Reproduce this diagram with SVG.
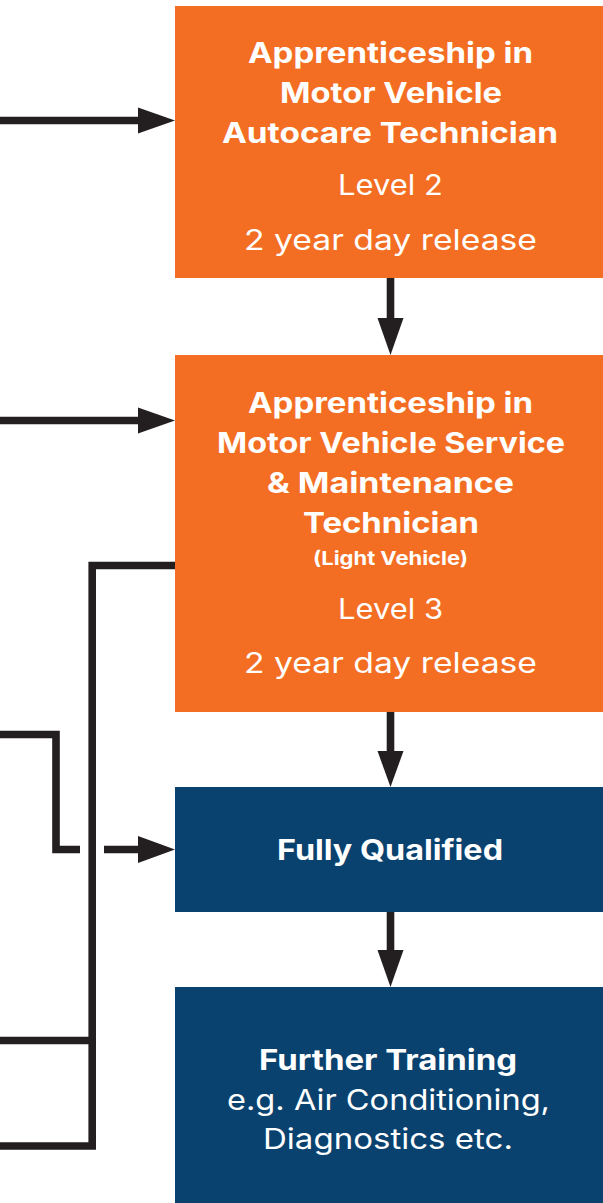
<svg xmlns="http://www.w3.org/2000/svg" width="603" height="1203" viewBox="0 0 603 1203">
<style>
.orange{fill:#F36E22}
.navy{fill:#0A426F}
.t{font-family:Inter,"Noto Sans","Liberation Sans",sans-serif;fill:#FFFFFF;text-anchor:middle;font-size:28px}
.b{font-weight:700}
.r{font-weight:400}
.s{font-size:19px;font-weight:700}
.ln{fill:none;stroke:#231F20;stroke-width:7.6;stroke-linejoin:miter;stroke-linecap:butt}
.hd{fill:#231F20}
</style>
<rect width="603" height="1203" fill="#FFFFFF"/>
<g id="connectors">
<path class="ln" d="M0,120.5 H140"/>
<polygon class="hd" points="138,107.5 175,120.5 138,133.5"/>
<path class="ln" d="M0,420.5 H140"/>
<polygon class="hd" points="138,407.5 175,420.5 138,433.5"/>
<path class="ln" d="M390.5,278 V320"/>
<polygon class="hd" points="377.5,318 403.5,318 390.5,355"/>
<path class="ln" d="M390.5,712 V753"/>
<polygon class="hd" points="377.5,751 403.5,751 390.5,787"/>
<path class="ln" d="M390.5,912 V952"/>
<polygon class="hd" points="377.5,950 403.5,950 390.5,987"/>
<path class="ln" d="M0,734.5 H56 V849.5 H80"/>
<path class="ln" d="M104,849.5 H140"/>
<polygon class="hd" points="138,836 175,849.5 138,863"/>
<path class="ln" d="M175,565.5 H92.2 V1146 H0"/>
<path class="ln" d="M0,1040.5 H92"/>
</g>
<g id="node-autocare">
<rect class="orange" x="175" y="6" width="430" height="272"/>
<text class="t b" x="390.5" y="63" textLength="285" lengthAdjust="spacingAndGlyphs">Apprenticeship in</text>
<text class="t b" x="391" y="103" textLength="222" lengthAdjust="spacingAndGlyphs">Motor Vehicle</text>
<text class="t b" x="390" y="143" textLength="336" lengthAdjust="spacingAndGlyphs">Autocare Technician</text>
<text class="t r" x="390.5" y="195" textLength="105" lengthAdjust="spacingAndGlyphs">Level 2</text>
<text class="t r" x="390.5" y="250" textLength="293" lengthAdjust="spacingAndGlyphs">2 year day release</text>
</g>
<g id="node-service">
<rect class="orange" x="175" y="355" width="430" height="357"/>
<text class="t b" x="390.5" y="413" textLength="285" lengthAdjust="spacingAndGlyphs">Apprenticeship in</text>
<text class="t b" x="391" y="453" textLength="348" lengthAdjust="spacingAndGlyphs">Motor Vehicle Service</text>
<text class="t b" x="390.5" y="493" textLength="247" lengthAdjust="spacingAndGlyphs">&amp; Maintenance</text>
<text class="t b" x="391" y="533" textLength="176" lengthAdjust="spacingAndGlyphs">Technician</text>
<text class="t s" x="390.5" y="565" textLength="155" lengthAdjust="spacingAndGlyphs">(Light Vehicle)</text>
<text class="t r" x="390.5" y="619" textLength="105" lengthAdjust="spacingAndGlyphs">Level 3</text>
<text class="t r" x="390.5" y="673" textLength="293" lengthAdjust="spacingAndGlyphs">2 year day release</text>
</g>
<g id="node-qualified">
<rect class="navy" x="175" y="787" width="430" height="125"/>
<text class="t b" x="390" y="860" textLength="226" lengthAdjust="spacingAndGlyphs">Fully Qualified</text>
</g>
<g id="node-further">
<rect class="navy" x="175" y="987" width="430" height="220"/>
<text class="t b" x="388" y="1070" textLength="258" lengthAdjust="spacingAndGlyphs">Further Training</text>
<text class="t r" x="388.5" y="1110" textLength="323" lengthAdjust="spacingAndGlyphs">e.g. Air Conditioning,</text>
<text class="t r" x="388" y="1149" textLength="250" lengthAdjust="spacingAndGlyphs">Diagnostics etc.</text>
</g>
</svg>
